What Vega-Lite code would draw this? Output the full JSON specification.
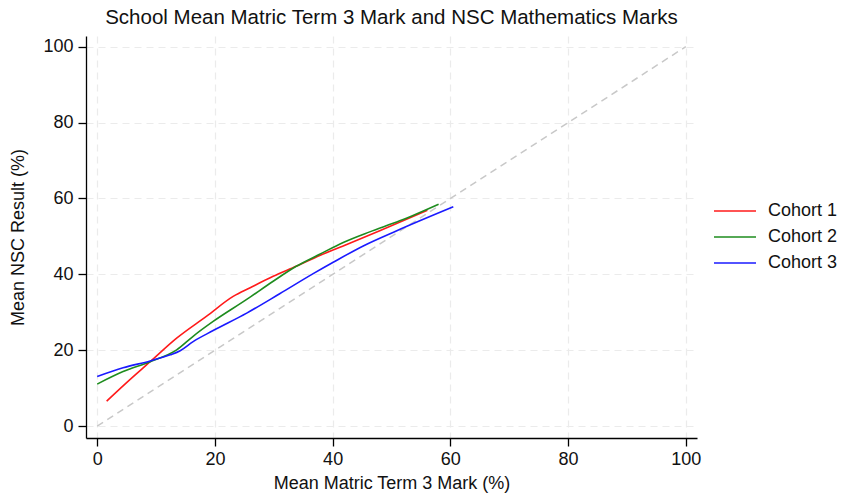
{
  "$schema": "https://vega.github.io/schema/vega-lite/v6.json",
  "width": 611,
  "height": 402,
  "autosize": {"type": "none"},
  "padding": {"left": 86, "top": 36, "right": 146, "bottom": 57},
  "background": "white",
  "title": {"text": "School Mean Matric Term 3 Mark and NSC Mathematics Marks", "fontSize": 20.5, "fontWeight": "normal", "font": "Liberation Sans", "color": "#111", "anchor": "middle", "offset": 8},
  "config": {
    "view": {"stroke": null},
    "font": "Liberation Sans"
  },
  "datasets": {
    "curves": [
      {"cohort": "Cohort 1", "x": 1.6, "y": 6.6},
      {"cohort": "Cohort 1", "x": 5.0, "y": 11.5},
      {"cohort": "Cohort 1", "x": 9.0, "y": 17.0},
      {"cohort": "Cohort 1", "x": 13.5, "y": 23.2},
      {"cohort": "Cohort 1", "x": 18.6, "y": 29.0},
      {"cohort": "Cohort 1", "x": 23.1, "y": 34.2},
      {"cohort": "Cohort 1", "x": 26.0, "y": 36.5},
      {"cohort": "Cohort 1", "x": 29.9, "y": 39.5},
      {"cohort": "Cohort 1", "x": 33.9, "y": 42.2},
      {"cohort": "Cohort 1", "x": 37.8, "y": 45.0},
      {"cohort": "Cohort 1", "x": 42.4, "y": 47.9},
      {"cohort": "Cohort 1", "x": 48.0, "y": 51.5},
      {"cohort": "Cohort 1", "x": 56.1, "y": 56.9},
      {"cohort": "Cohort 2", "x": 0.0, "y": 11.1},
      {"cohort": "Cohort 2", "x": 4.4, "y": 14.4},
      {"cohort": "Cohort 2", "x": 9.0, "y": 17.0},
      {"cohort": "Cohort 2", "x": 13.5, "y": 20.1},
      {"cohort": "Cohort 2", "x": 16.3, "y": 23.7},
      {"cohort": "Cohort 2", "x": 19.7, "y": 27.6},
      {"cohort": "Cohort 2", "x": 25.4, "y": 33.4},
      {"cohort": "Cohort 2", "x": 29.9, "y": 38.2},
      {"cohort": "Cohort 2", "x": 33.9, "y": 42.2},
      {"cohort": "Cohort 2", "x": 37.8, "y": 45.3},
      {"cohort": "Cohort 2", "x": 41.8, "y": 48.4},
      {"cohort": "Cohort 2", "x": 46.3, "y": 51.2},
      {"cohort": "Cohort 2", "x": 51.4, "y": 54.1},
      {"cohort": "Cohort 2", "x": 58.0, "y": 58.5},
      {"cohort": "Cohort 3", "x": 0.0, "y": 13.1},
      {"cohort": "Cohort 3", "x": 4.4, "y": 15.4},
      {"cohort": "Cohort 3", "x": 9.0, "y": 17.2},
      {"cohort": "Cohort 3", "x": 12.4, "y": 18.8},
      {"cohort": "Cohort 3", "x": 14.1, "y": 19.9},
      {"cohort": "Cohort 3", "x": 16.3, "y": 22.3},
      {"cohort": "Cohort 3", "x": 19.7, "y": 25.2},
      {"cohort": "Cohort 3", "x": 25.4, "y": 29.8},
      {"cohort": "Cohort 3", "x": 31.0, "y": 34.9},
      {"cohort": "Cohort 3", "x": 36.7, "y": 40.2},
      {"cohort": "Cohort 3", "x": 40.1, "y": 43.2},
      {"cohort": "Cohort 3", "x": 45.2, "y": 47.5},
      {"cohort": "Cohort 3", "x": 50.9, "y": 51.5},
      {"cohort": "Cohort 3", "x": 60.5, "y": 57.8}
    ],
    "diag": [
      {"x": 0, "y": 0},
      {"x": 100, "y": 100}
    ]
  },
  "layer": [
    {
      "data": {"name": "diag"},
      "mark": {"type": "line", "color": "#c8c8c8", "strokeWidth": 1.5, "strokeDash": [7, 5]},
      "encoding": {
        "x": {"field": "x", "type": "quantitative", "scale": {"domain": [-1.9, 101.9], "nice": false, "zero": false},
          "axis": {"values": [0, 20, 40, 60, 80, 100], "title": "Mean Matric Term 3 Mark (%)", "titleFontSize": 18, "titleFontWeight": "normal", "titleColor": "#111", "labelFontSize": 18, "labelColor": "#111", "domainColor": "#000", "domainWidth": 1.3, "tickColor": "#000", "tickSize": 8, "tickWidth": 1.3, "labelPadding": 4, "titlePadding": 6, "grid": true, "gridColor": "#ebebeb", "gridDash": [7, 5], "gridWidth": 1.2}},
        "y": {"field": "y", "type": "quantitative", "scale": {"domain": [-3.1, 102.8], "nice": false, "zero": false},
          "axis": {"values": [0, 20, 40, 60, 80, 100], "title": "Mean NSC Result (%)", "titleFontSize": 18, "titleFontWeight": "normal", "titleColor": "#111", "labelFontSize": 18, "labelColor": "#111", "domainColor": "#000", "domainWidth": 1.3, "tickColor": "#000", "tickSize": 8, "tickWidth": 1.3, "labelPadding": 5, "titlePadding": 15, "grid": true, "gridColor": "#ebebeb", "gridDash": [7, 5], "gridWidth": 1.2}}
      }
    },
    {
      "data": {"name": "curves"},
      "mark": {"type": "line", "strokeWidth": 1.6, "interpolate": "monotone"},
      "encoding": {
        "x": {"field": "x", "type": "quantitative"},
        "y": {"field": "y", "type": "quantitative"},
        "order": {"field": "x", "type": "quantitative"},
        "color": {"field": "cohort", "type": "nominal",
          "scale": {"domain": ["Cohort 1", "Cohort 2", "Cohort 3"], "range": ["#ff1a1a", "#1e8c1e", "#1a1aff"]},
          "legend": {"title": null, "orient": "none", "legendX": 640, "legendY": 166, "symbolType": "M-3,0H3", "symbolSize": 196, "symbolStrokeWidth": 1.6, "labelFontSize": 18, "labelColor": "#111", "rowPadding": 8, "labelOffset": 24}}
      }
    }
  ]
}
